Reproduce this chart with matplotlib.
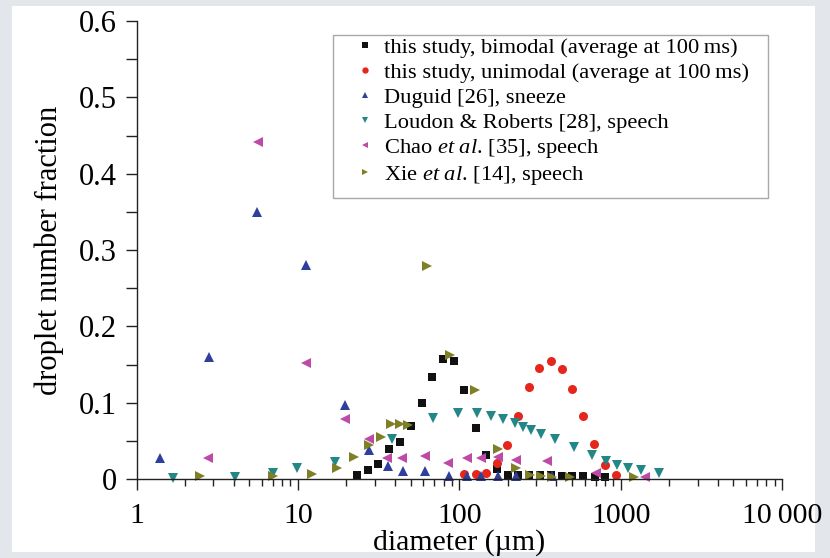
import numpy as np
import matplotlib
matplotlib.use('Agg')
from matplotlib import pyplot as plt
from matplotlib.patches import Rectangle
from matplotlib.ticker import FixedLocator, FuncFormatter, MultipleLocator

plt.rcParams['font.family'] = ['Liberation Serif', 'DejaVu Serif']
plt.rcParams['mathtext.fontset'] = 'custom'
plt.rcParams['mathtext.rm'] = 'Liberation Serif'
plt.rcParams['mathtext.it'] = 'Liberation Serif:italic'

# this study, bimodal (average at 100 ms)
bimodal_d = [23.2, 27.1, 31.4, 36.9, 42.8, 50.0, 58.4, 68.0, 79.4, 92.9, 106.6,
             126.5, 147, 171, 200, 231, 269, 317, 371, 431, 502, 587, 693, 803]
bimodal_f = [0.005, 0.012, 0.019, 0.039, 0.048, 0.069, 0.100, 0.134, 0.157,
             0.154, 0.117, 0.067, 0.031, 0.013, 0.005, 0.005, 0.005, 0.005,
             0.005, 0.004, 0.004, 0.004, 0.003, 0.003]

# this study, unimodal (average at 100 ms)
unimodal_d = [106.6, 126.5, 146.5, 171, 199, 231, 269, 314, 369, 431, 502,
              587, 686, 800, 934]
unimodal_f = [0.007, 0.007, 0.008, 0.021, 0.045, 0.082, 0.120, 0.145, 0.154,
              0.144, 0.118, 0.083, 0.046, 0.018, 0.005]

# Duguid [26], sneeze
duguid_d = [1.40, 2.80, 5.62, 11.3, 19.6, 27.6, 36.2, 44.8, 61.2, 87, 112,
            137, 173, 226, 373]
duguid_f = [0.028, 0.160, 0.350, 0.280, 0.097, 0.038, 0.017, 0.010, 0.010,
            0.004, 0.004, 0.004, 0.004, 0.004, 0.004]

# Loudon & Roberts [28], speech
loudon_d = [1.69, 4.07, 7.06, 9.84, 17.0, 38.1, 68.9, 98.3, 128.8, 158, 188,
            220, 250, 279, 322, 393, 514, 661, 806, 951, 1112, 1333, 1729]
loudon_f = [0.001, 0.002, 0.008, 0.014, 0.022, 0.052, 0.080, 0.087, 0.086,
            0.083, 0.078, 0.073, 0.068, 0.064, 0.059, 0.052, 0.042, 0.031,
            0.024, 0.018, 0.015, 0.012, 0.008]

# Chao et al. [35], speech
chao_d = [2.77, 5.65, 11.3, 19.6, 27.4, 35.6, 44.4, 61, 85.3, 111.7, 137, 173,
          224, 348, 703, 1410]
chao_f = [0.028, 0.442, 0.152, 0.079, 0.052, 0.027, 0.028, 0.030, 0.021,
          0.028, 0.027, 0.029, 0.025, 0.024, 0.008, 0.003]

# Xie et al. [14], speech
xie_d = [2.49, 7.06, 12.2, 17.4, 22.3, 27.6, 32.6, 37.6, 42.9, 48.1, 62.8,
         87.4, 124.7, 173, 226, 275, 322, 378, 486, 1211]
xie_f = [0.004, 0.004, 0.007, 0.014, 0.029, 0.045, 0.055, 0.072, 0.072, 0.071,
         0.279, 0.162, 0.116, 0.039, 0.014, 0.005, 0.004, 0.003, 0.003, 0.003]

x_ticks = [1, 10, 100, 1000, 10000]
x_labels = ['1', '10', '100', '1000', '10\u2009000']

W, H = 830, 558
fig = plt.figure(figsize=(W / 100, H / 100), dpi=100, facecolor='#e3e6ea')
# white page over the grey surround
fig.patches.append(Rectangle((12 / W, 6 / H), 803 / W, 546 / H,
                             transform=fig.transFigure, facecolor='white',
                             edgecolor='none', zorder=-10))

ax = fig.add_axes([136.5 / W, 1 - 479 / H, 645.5 / W, 458 / H])
ax.set_facecolor('none')

series = [
    (bimodal_d, bimodal_f, 's', '#111111', 5.5,
     'this study, bimodal (average at 100\u2009ms)'),
    (unimodal_d, unimodal_f, 'o', '#e5261c', 6.5,
     'this study, unimodal (average at 100\u2009ms)'),
    (duguid_d, duguid_f, '^', '#2e3f9e', 7,
     'Duguid [26], sneeze'),
    (loudon_d, loudon_f, 'v', '#218787', 7,
     'Loudon & Roberts [28], speech'),
    (chao_d, chao_f, '<', '#bd4aa6', 7,
     r'Chao $\mathit{et\ al}$. [35], speech'),
    (xie_d, xie_f, '>', '#7f7f26', 7,
     r'Xie $\mathit{et\ al}$. [14], speech'),
]
for d, f, m, c, ms, lab in series:
    ax.plot(d, f, linestyle='none', marker=m, color=c, markersize=ms,
            markeredgewidth=0, label=lab, clip_on=False)

ax.set_xscale('log')
ax.set_xlim(1, 10000)
ax.set_ylim(0, 0.6)
ax.xaxis.set_major_locator(FixedLocator(x_ticks))
ax.xaxis.set_major_formatter(FuncFormatter(lambda v, p: x_labels[x_ticks.index(v)] if v in x_ticks else ''))
ax.yaxis.set_major_locator(MultipleLocator(0.1))
ax.yaxis.set_minor_locator(MultipleLocator(0.05))
ax.yaxis.set_major_formatter(FuncFormatter(lambda v, p: '0' if abs(v) < 1e-9 else '%.1f' % v))

ax.spines['top'].set_visible(False)
ax.spines['right'].set_visible(False)
for s in ['left', 'bottom']:
    ax.spines[s].set_linewidth(1.0)
    ax.spines[s].set_color('#222222')

ax.tick_params(axis='both', which='both', direction='out', width=1.0,
               color='#222222')
ax.tick_params(axis='y', which='both', length=8, labelsize=22, pad=6)
ax.tick_params(axis='x', which='major', length=8, labelsize=21.5, pad=9)
ax.tick_params(axis='x', which='minor', length=5)

ax.set_xlabel('diameter (\u00b5m)', fontsize=21.5, labelpad=0)
ax.set_ylabel('droplet number fraction', fontsize=22, labelpad=11)

# legend without its own frame; the frame is drawn as a plain box
leg = ax.legend(loc='upper left', bbox_to_anchor=(354 / W, 1 - 33 / H),
                bbox_transform=fig.transFigure,
                fontsize=16.2, frameon=False, markerscale=0.7,
                handlelength=0.6, handletextpad=0.55, labelspacing=0.18,
                borderpad=0.2, borderaxespad=0)
fig.patches.append(Rectangle((333 / W, 1 - 198 / H), 435 / W, 163 / H,
                             transform=fig.transFigure, facecolor='white',
                             edgecolor='#a8a8a8', linewidth=1.0, zorder=-5))

fig.savefig('out.png', dpi=100, facecolor=fig.get_facecolor())
